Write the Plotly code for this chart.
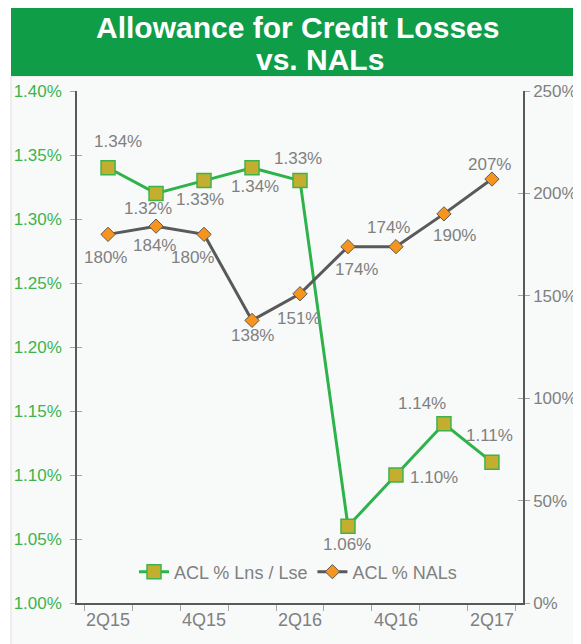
import plotly.graph_objects as go

categories = ["2Q15", "3Q15", "4Q15", "1Q16", "2Q16", "3Q16", "4Q16", "1Q17", "2Q17"]
acl_lns = [1.34, 1.32, 1.33, 1.34, 1.33, 1.06, 1.10, 1.14, 1.11]          # percent
acl_nals = [180, 184, 180, 138, 151, 174, 174, 190, 207]                  # percent
tick_text = [c if i % 2 == 0 else "" for i, c in enumerate(categories)]

# label offsets in pixels (dx right, dy down) - styling only
lns_dx = [10, -8, -4, 3, -2, -1, 38, -22, -2]
lns_dy = [-26, 15, 19, 19, -22, 18, 2, -20, -27]
nals_dx = [-3, -2, -12, 0, -2, 9, -7, 11, -2]
nals_dy = [23, 19, 23, 15, 25, 23, -19, 22, -15]

GREEN = "#2db34a"
BANNER = "#0f9d48"
OLIVE = "#c3ae30"
ORANGE = "#f7941d"
DARK = "#595959"
LABEL = "#808080"
TICK = "#a6a6a6"
FONT = "Liberation Sans, Arial, sans-serif"

# page is offset by 8px body margin -> figure is 8px smaller
W, H = 573, 636
L, R, T, B = 69, 58, 83, 41
PW, PH = W - L - R, H - T - B


def px(xp):  # page x -> paper
    return (xp - 8 - L) / PW


def py(yp):  # page y -> paper
    return (H - B - (yp - 8)) / PH


fig = go.Figure()
fig.add_trace(go.Scatter(
    x=categories, y=[v / 100 for v in acl_lns], name="ACL % Lns / Lse",
    mode="lines+markers",
    line=dict(color=GREEN, width=3),
    marker=dict(symbol="square", size=14, color=OLIVE, line=dict(color="#3cb44b", width=1.5)),
    yaxis="y", cliponaxis=False,
))
fig.add_trace(go.Scatter(
    x=categories, y=[v / 100 for v in acl_nals], name="ACL % NALs",
    mode="lines+markers",
    line=dict(color=DARK, width=3),
    marker=dict(symbol="diamond", size=11, color=ORANGE, line=dict(color=DARK, width=1)),
    yaxis="y2", cliponaxis=False,
))
# dummy traces so the inner tick axes are drawn
fig.add_trace(go.Scatter(x=[], y=[], yaxis="y3", showlegend=False, hoverinfo="skip"))
fig.add_trace(go.Scatter(x=[], y=[], yaxis="y4", showlegend=False, hoverinfo="skip"))

annotations = []
for i, c in enumerate(categories):
    annotations.append(dict(
        x=c, y=acl_lns[i] / 100, xref="x", yref="y", text=f"{acl_lns[i]:.2f}%",
        xshift=lns_dx[i], yshift=-lns_dy[i], showarrow=False,
        xanchor="center", yanchor="middle", font=dict(size=17, color=LABEL, family=FONT)))
    annotations.append(dict(
        x=c, y=acl_nals[i] / 100, xref="x", yref="y2", text=f"{acl_nals[i]}%",
        xshift=nals_dx[i], yshift=-nals_dy[i], showarrow=False,
        xanchor="center", yanchor="middle", font=dict(size=17, color=LABEL, family=FONT)))

annotations += [
    dict(text="<b>Allowance for Credit Losses</b>", xref="paper", yref="paper",
         x=px(297), y=py(27), xanchor="center", yanchor="middle",
         showarrow=False, font=dict(size=30, color="white", family=FONT)),
    dict(text="<b>vs. NALs</b>", xref="paper", yref="paper",
         x=px(320), y=py(59), xanchor="center", yanchor="middle",
         showarrow=False, font=dict(size=30, color="white", family=FONT)),
]

fig.update_layout(
    width=W, height=H,
    margin=dict(l=L, r=R, t=T, b=B),
    paper_bgcolor="white",
    plot_bgcolor="rgba(0,0,0,0)",
    font=dict(family=FONT, color=LABEL, size=17),
    showlegend=True,
    legend=dict(orientation="h", x=px(298), y=py(572), xanchor="center", yanchor="middle",
                bgcolor="rgba(0,0,0,0)", font=dict(size=18, color=LABEL, family=FONT),
                itemwidth=30, tracegroupgap=0),
    xaxis=dict(
        type="category", tickson="boundaries", tickvals=categories, ticktext=tick_text,
        ticks="outside", ticklen=6, tickcolor=TICK, showgrid=False, tickangle=0,
        showline=True, linecolor=DARK, linewidth=1.5, automargin=False,
        tickfont=dict(size=18, color=LABEL, family=FONT), zeroline=False,
    ),
    yaxis=dict(
        range=[0.0100, 0.0140], dtick=0.0005, tickformat=".2%", showgrid=False, zeroline=False,
        ticks="outside", ticklen=5, tickcolor=TICK, automargin=False, ticklabelstandoff=5,
        showline=True, linecolor=DARK, linewidth=1.5,
        tickfont=dict(size=17, color="#3cb44b", family=FONT),
    ),
    yaxis2=dict(
        range=[0, 2.5], dtick=0.5, tickformat=".0%", overlaying="y", side="right",
        showgrid=False, zeroline=False, automargin=False,
        ticks="outside", ticklen=5, tickcolor=TICK,
        showline=True, linecolor=DARK, linewidth=1.5,
        tickfont=dict(size=17, color=LABEL, family=FONT),
    ),
    yaxis3=dict(
        range=[0.0100, 0.0140], dtick=0.0005, overlaying="y", side="left", anchor="x",
        showticklabels=False, showgrid=False, zeroline=False, showline=False,
        ticks="inside", ticklen=5, tickcolor=TICK, automargin=False,
    ),
    yaxis4=dict(
        range=[0, 2.5], dtick=0.5, overlaying="y", side="right", anchor="x",
        showticklabels=False, showgrid=False, zeroline=False, showline=False,
        ticks="inside", ticklen=5, tickcolor=TICK, automargin=False,
    ),
    shapes=[
        dict(type="rect", xref="paper", yref="paper", layer="below",
             x0=px(11), x1=px(600), y0=py(660), y1=py(76),
             fillcolor="#f8fafa", line=dict(color="#dddddd", width=1)),
        dict(type="rect", xref="paper", yref="paper", layer="below",
             x0=px(11), x1=px(600), y0=py(76), y1=py(8),
             fillcolor=BANNER, line=dict(width=0)),
    ],
    annotations=annotations,
)

fig.write_html("out.html")
